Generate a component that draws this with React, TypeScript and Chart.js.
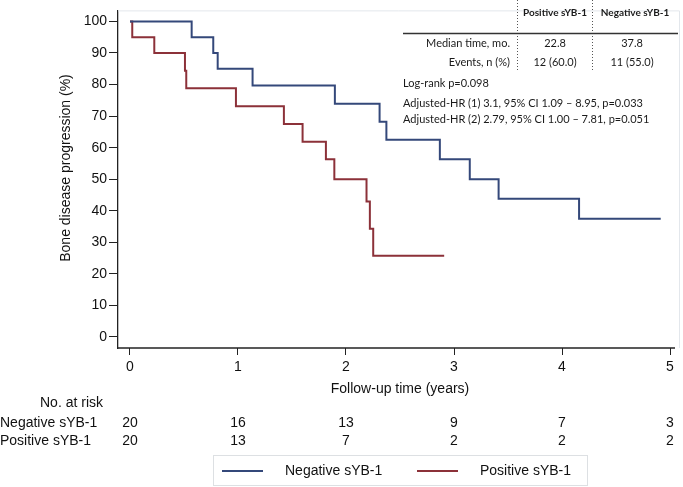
import React, { useEffect, useRef } from "react";
import { Chart, registerables } from "chart.js";

Chart.register(...registerables);

// ---- Data ----
const negLabel = "Negative sYB-1";
const posLabel = "Positive sYB-1";
const negTimes = [0, 0.571, 0.771, 0.812, 1.135, 1.897, 2.311, 2.374, 2.869, 3.146, 3.413, 4.158, 4.914];
const negSurv = [100, 95, 90, 85, 79.7, 73.9, 68.2, 62.5, 56.3, 50.0, 43.8, 37.5, 37.5];
const posTimes = [0, 0.021, 0.225, 0.509, 0.521, 0.981, 1.425, 1.598, 1.814, 1.892, 2.19, 2.221, 2.252, 2.909];
const posSurv = [100, 95, 90, 84.4, 78.8, 73.1, 67.5, 61.9, 56.3, 50.0, 42.9, 34.3, 25.7, 25.7];

const xTicks = [0, 1, 2, 3, 4, 5];
const yTicks = [0, 10, 20, 30, 40, 50, 60, 70, 80, 90, 100];
const negRisk = [20, 16, 13, 9, 7, 3];
const posRisk = [20, 13, 7, 2, 2, 2];

const tableHeaders = ["Positive sYB-1", "Negative sYB-1"];
const tableRowLabels = ["Median time, mo.", "Events, n (%)"];
const tablePos = ["22.8", "12 (60.0)"];
const tableNeg = ["37.8", "11 (55.0)"];
const statLines = [
  "Log-rank p=0.098",
  "Adjusted-HR (1) 3.1, 95% CI 1.09 \u2013 8.95, p=0.033",
  "Adjusted-HR (2) 2.79, 95% CI 1.00 \u2013 7.81, p=0.051",
];

const xTitle = "Follow-up time (years)";
const yTitle = "Bone disease progression (%)";
const riskTitle = "No. at risk";

const BLUE = "#34487a";
const RED = "#8c3139";
const ARIAL = "'Liberation Sans', Arial, sans-serif";
const CAL = "Lato, 'Open Sans', sans-serif";

const overlay = {
  id: "overlay",
  beforeDatasetsDraw(chart: any) {
    const { ctx, chartArea: ca } = chart;
    ctx.save();
    ctx.strokeStyle = "#e3e7ec";
    ctx.lineWidth = 1;
    ctx.beginPath();
    ctx.moveTo(ca.left, ca.top + 0.5);
    ctx.lineTo(ca.right - 0.5, ca.top + 0.5);
    ctx.lineTo(ca.right - 0.5, ca.bottom);
    ctx.stroke();
    // x axis line (stops a little before the plot frame)
    const xs = chart.scales.x;
    ctx.strokeStyle = "#222";
    ctx.lineWidth = 1.3;
    ctx.beginPath();
    ctx.moveTo(ca.left, ca.bottom);
    ctx.lineTo(xs.getPixelForValue(xTicks[xTicks.length - 1]) + 5, ca.bottom);
    ctx.stroke();
    ctx.restore();
  },
  afterDraw(chart: any) {
    const { ctx } = chart;
    const xs = chart.scales.x;
    ctx.save();
    ctx.fillStyle = "#111";

    // y title
    ctx.save();
    ctx.translate(66, 168);
    ctx.rotate(-Math.PI / 2);
    ctx.font = `14px ${ARIAL}`;
    ctx.textAlign = "center";
    ctx.textBaseline = "middle";
    ctx.fillText(yTitle, 0, 0);
    ctx.restore();

    // x title
    ctx.font = `14px ${ARIAL}`;
    ctx.textAlign = "center";
    ctx.textBaseline = "middle";
    ctx.fillText(xTitle, 400, 389);

    // risk table
    ctx.textAlign = "right";
    ctx.fillText(riskTitle, 103, 403);
    ctx.textAlign = "left";
    ctx.fillText(negLabel, 0, 423);
    ctx.fillText(posLabel, 0, 441);
    ctx.textAlign = "center";
    xTicks.forEach((t, i) => {
      const px = xs.getPixelForValue(t);
      ctx.fillText(String(negRisk[i]), px, 423);
      ctx.fillText(String(posRisk[i]), px, 441);
    });

    // legend
    ctx.strokeStyle = "#dde0e3";
    ctx.lineWidth = 1;
    ctx.strokeRect(213.5, 455.5, 374, 30);
    ctx.lineWidth = 2;
    ctx.strokeStyle = BLUE;
    ctx.beginPath();
    ctx.moveTo(222, 471);
    ctx.lineTo(263, 471);
    ctx.stroke();
    ctx.strokeStyle = RED;
    ctx.beginPath();
    ctx.moveTo(417, 471);
    ctx.lineTo(458, 471);
    ctx.stroke();
    ctx.textAlign = "left";
    ctx.fillText(negLabel, 285, 471);
    ctx.fillText(posLabel, 480, 471);

    // summary table
    ctx.strokeStyle = "#555";
    ctx.lineWidth = 1;
    ctx.setLineDash([1, 2]);
    [517.5, 592.5].forEach((x) => {
      ctx.beginPath();
      ctx.moveTo(x, 0);
      ctx.lineTo(x, 72);
      ctx.stroke();
    });
    ctx.setLineDash([]);
    ctx.strokeStyle = "#333";
    ctx.lineWidth = 1.3;
    ctx.beginPath();
    ctx.moveTo(403, 33.5);
    ctx.lineTo(678, 33.5);
    ctx.stroke();

    ctx.fillStyle = "#1a1a1a";
    ctx.font = `bold 10px ${CAL}`;
    ctx.textAlign = "center";
    ctx.fillText(tableHeaders[0], 555, 13);
    ctx.fillText(tableHeaders[1], 635, 13);
    ctx.font = `11px ${CAL}`;
    const rowsY = [43, 62];
    tableRowLabels.forEach((lab, i) => {
      ctx.textAlign = "right";
      ctx.fillText(lab, 510, rowsY[i]);
      ctx.textAlign = "center";
      ctx.fillText(tablePos[i], 555, rowsY[i]);
      ctx.fillText(tableNeg[i], 632, rowsY[i]);
    });
    ctx.textAlign = "left";
    const statY = [83, 103.5, 119];
    statLines.forEach((s, i) => ctx.fillText(s, 403, statY[i]));

    ctx.restore();
  },
};

export default function App() {
  const ref = useRef<HTMLCanvasElement | null>(null);
  useEffect(() => {
    if (!ref.current) return;
    const chart = new Chart(ref.current, {
      type: "line",
      data: {
        datasets: [
          {
            label: negLabel,
            data: negTimes.map((t, i) => ({ x: t, y: negSurv[i] })),
            borderColor: BLUE,
            borderWidth: 2,
            pointRadius: 0,
            stepped: "before",
            fill: false,
          },
          {
            label: posLabel,
            data: posTimes.map((t, i) => ({ x: t, y: posSurv[i] })),
            borderColor: RED,
            borderWidth: 2,
            pointRadius: 0,
            stepped: "before",
            fill: false,
          },
        ],
      },
      options: {
        animation: false,
        responsive: false,
        devicePixelRatio: 1,
        layout: { padding: { top: 1, right: 3, left: 0, bottom: 0 } },
        plugins: { legend: { display: false }, tooltip: { enabled: false } },
        scales: {
          x: {
            type: "linear",
            min: -0.111,
            max: 5.0925,
            afterBuildTicks: (s: any) => {
              s.ticks = xTicks.map((v) => ({ value: v }));
            },
            afterFit: (s: any) => {
              s.height = 139;
            },
            grid: { drawOnChartArea: false, drawTicks: true, tickLength: 7, color: "#222", lineWidth: 1 },
            border: { display: false },
            ticks: { font: { family: ARIAL, size: 14 }, color: "#111", padding: 4, maxRotation: 0 },
          },
          y: {
            type: "linear",
            min: -3.5,
            max: 103.5,
            afterBuildTicks: (s: any) => {
              s.ticks = yTicks.map((v) => ({ value: v }));
            },
            afterFit: (s: any) => {
              s.width = 118;
            },
            grid: { drawOnChartArea: false, drawTicks: true, tickLength: 9, color: "#222", lineWidth: 1 },
            border: { display: true, color: "#222", width: 1.3 },
            ticks: { font: { family: ARIAL, size: 14 }, color: "#111", padding: 2 },
          },
        },
      },
      plugins: [overlay],
    });
    return () => chart.destroy();
  }, []);
  return (
    <div style={{ position: "fixed", left: 0, top: 0, width: 683, height: 487, background: "#fff" }}>
      <canvas ref={ref} width={683} height={487} style={{ width: 683, height: 487, display: "block" }} />
    </div>
  );
}
